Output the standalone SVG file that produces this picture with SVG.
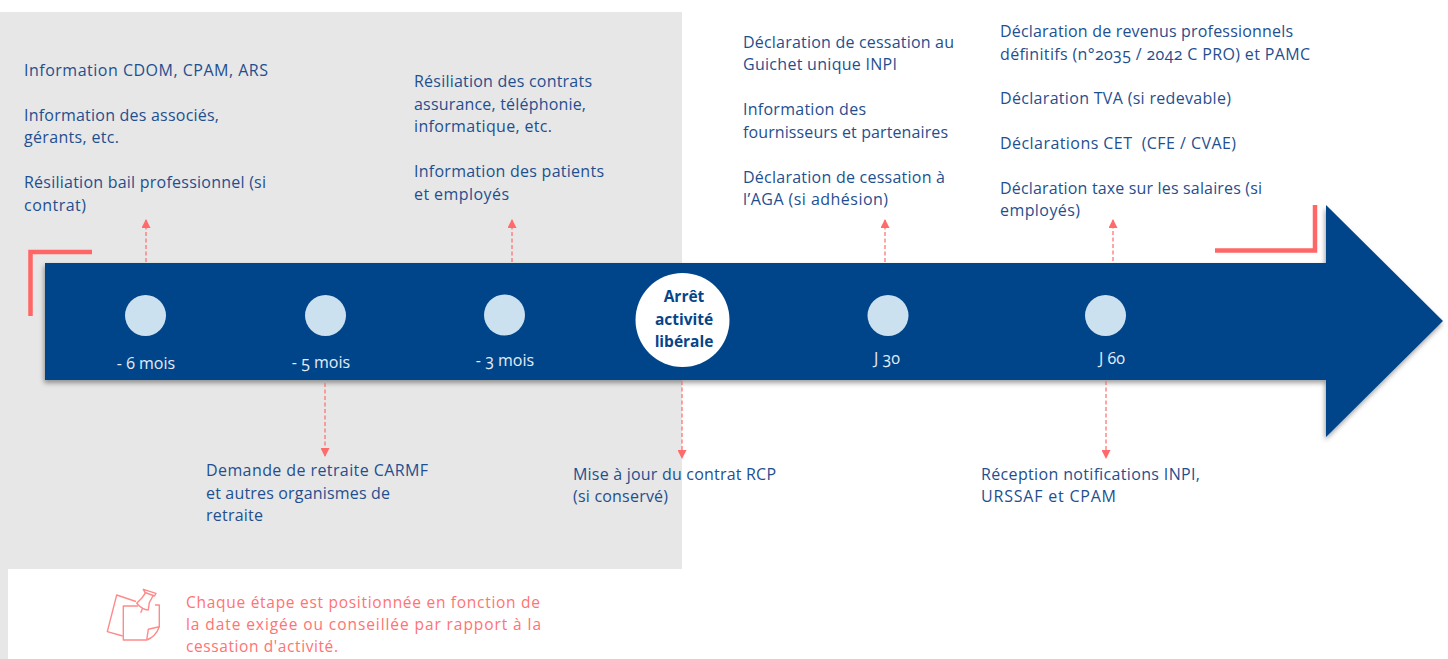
<svg xmlns="http://www.w3.org/2000/svg" width="1448" height="659" viewBox="0 0 1448 659">
<defs>
<style>
text{font-family:"Open Sans","Noto Sans","Liberation Sans",sans-serif;font-size:16px;font-feature-settings:"onum"}
.b{fill:#1f4f8f}
.w{fill:#e4ecf4;font-size:16px}
.c{text-anchor:middle}
.r{fill:#ff7373;font-size:15.5px}
.h{fill:#06458a;font-size:15.5px;font-weight:700;text-anchor:middle}
.d{fill:#cbe1f0}
.dash{stroke:#ff6a6a;stroke-width:1.2;stroke-dasharray:4 2.5;fill:none;marker-end:url(#ah)}
.cor{fill:none;stroke:#ff6666;stroke-width:4.5}
.ic{fill:none;stroke:#ff8a8a;stroke-width:1.4;stroke-linejoin:round}
</style>
<marker id="ah" viewBox="0 0 9 9" refX="8" refY="4.5" markerWidth="9" markerHeight="9" markerUnits="userSpaceOnUse" orient="auto"><path d="M0 0L9 4.5L0 9Z" fill="#ff6a6a"/></marker>
<filter id="sh" x="-2%" y="-5%" width="104%" height="112%"><feDropShadow dx="-1" dy="3" stdDeviation="2.5" flood-color="#000" flood-opacity=".38"/></filter>
</defs>
<rect width="1448" height="659" fill="#fff"/>
<rect id="zone" x="0" y="12" width="682" height="557" fill="#e7e7e7"/>
<rect x="0" y="569" width="8" height="90" fill="#e7e7e7"/>
<path id="corner-left" class="cor" d="M30.500 316V252H92"/>
<path id="corner-right" class="cor" d="M1215 250.500H1315V205"/>
<path id="timeline" d="M45 263H1326V205L1443 321L1326 437V380H45Z" fill="#06458a" filter="url(#sh)"/>
<g id="connectors">
<path class="dash" d="M146 262V220"/>
<path class="dash" d="M325 383V456"/>
<path class="dash" d="M512 262V220"/>
<path class="dash" d="M682 381V458"/>
<path class="dash" d="M885 262V220"/>
<path class="dash" d="M1113 261V220"/>
<path class="dash" d="M1106 381V458"/>
</g>
<g id="n-6"><circle class="d" cx="145.500" cy="315.500" r="20.500"/><text class="w c" x="146" y="369">- 6 mois</text></g>
<g id="n-5"><circle class="d" cx="325.500" cy="315.500" r="20.500"/><text class="w c" x="321" y="368">- 5 mois</text></g>
<g id="n-3"><circle class="d" cx="504.500" cy="315" r="20.500"/><text class="w c" x="505" y="366">- 3 mois</text></g>
<g id="n-arret"><circle cx="682.500" cy="320" r="47" fill="#fff"/><text class="h" x="684" y="302">Arrêt</text><text class="h" x="684" y="325">activité</text><text class="h" x="684" y="347">libérale</text></g>
<g id="n-j30"><circle class="d" cx="888" cy="315.500" r="20.500"/><text class="w c" x="887" y="364">J 30</text></g>
<g id="n-j60"><circle class="d" cx="1105.500" cy="315.500" r="20.500"/><text class="w c" x="1112" y="364">J 60</text></g>
<g id="t1">
<text class="b" x="24" y="76" textLength="244">Information CDOM, CPAM, ARS</text>
<text class="b" x="24" y="121" textLength="195">Information des associés,</text>
<text class="b" x="24" y="143" textLength="95">gérants, etc.</text>
<text class="b" x="24" y="188" textLength="242">Résiliation bail professionnel (si</text>
<text class="b" x="24" y="211" textLength="62">contrat)</text>
</g>
<g id="t2">
<text class="b" x="414" y="87" textLength="178">Résiliation des contrats</text>
<text class="b" x="414" y="110" textLength="172">assurance, téléphonie,</text>
<text class="b" x="414" y="132" textLength="138">informatique, etc.</text>
<text class="b" x="414" y="177" textLength="190">Information des patients</text>
<text class="b" x="414" y="200" textLength="95">et employés</text>
</g>
<g id="t3">
<text class="b" x="743" y="48" textLength="211">Déclaration de cessation au</text>
<text class="b" x="743" y="70" textLength="154">Guichet unique INPI</text>
<text class="b" x="743" y="115" textLength="123">Information des</text>
<text class="b" x="743" y="138" textLength="205">fournisseurs et partenaires</text>
<text class="b" x="743" y="183" textLength="202">Déclaration de cessation à</text>
<text class="b" x="743" y="205" textLength="145">l’AGA (si adhésion)</text>
</g>
<g id="t4">
<text class="b" x="1000" y="37" textLength="293">Déclaration de revenus professionnels</text>
<text class="b" x="1000" y="60" textLength="310">définitifs (n°2035 / 2042 C PRO) et PAMC</text>
<text class="b" x="1000" y="104" textLength="231">Déclaration TVA (si redevable)</text>
<text class="b" x="1000" y="149" textLength="236" xml:space="preserve">Déclarations CET  (CFE / CVAE)</text>
<text class="b" x="1000" y="194" textLength="262">Déclaration taxe sur les salaires (si</text>
<text class="b" x="1000" y="216" textLength="80">employés)</text>
</g>
<g id="t5">
<text class="b" x="206" y="476" textLength="222">Demande de retraite CARMF</text>
<text class="b" x="206" y="499" textLength="184">et autres organismes de</text>
<text class="b" x="206" y="521" textLength="57">retraite</text>
</g>
<g id="t6">
<text class="b" x="573" y="480" textLength="203">Mise à jour du contrat RCP</text>
<text class="b" x="573" y="502" textLength="95">(si conservé)</text>
</g>
<g id="t7">
<text class="b" x="981" y="480" textLength="219">Réception notifications INPI,</text>
<text class="b" x="981" y="502" textLength="135">URSSAF et CPAM</text>
</g>
<g id="note">
<g class="ic">
<path d="M136 601.500L116.700 595L107.300 631.700L122.700 636"/>
<path d="M138 606H123.300V640H146.700C152 638 157 633 159.300 626.700V605H155"/>
<path d="M146.700 640L148.300 629.300L159.300 626.700"/>
<path d="M143.300 589.300L156 593.300L154.500 596L145 592.500Z"/>
<path d="M146 592L141.700 598.300L136.700 603.300C140 607 145 610 148.300 610L149.300 602.700L153.500 595"/>
<path d="M142.700 608L140.700 612.700"/>
</g>
<text class="r" x="186" y="608" textLength="354">Chaque étape est positionnée en fonction de</text>
<text class="r" x="186" y="630" textLength="355">la date exigée ou conseillée par rapport à la</text>
<text class="r" x="186" y="652" textLength="152">cessation d'activité.</text>
</g>
</svg>
